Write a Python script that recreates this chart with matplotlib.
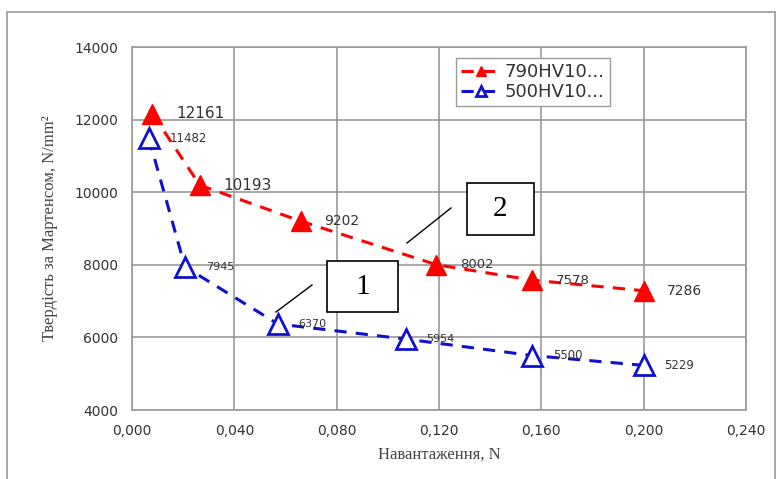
import matplotlib
matplotlib.use("Agg")
import matplotlib.pyplot as plt
from matplotlib.patches import Rectangle

# data
x_790 = [0.008, 0.0265, 0.066, 0.119, 0.1565, 0.200]
y_790 = [12161, 10193, 9202, 8002, 7578, 7286]
x_500 = [0.0066, 0.0207, 0.057, 0.107, 0.1565, 0.200]
y_500 = [11482, 7945, 6370, 5954, 5500, 5229]
labels_790 = ["12161", "10193", "9202", "8002", "7578", "7286"]
labels_500 = ["11482", "7945", "6370", "5954", "5500", "5229"]
sizes_790 = [11, 11, 10, 9.5, 9.5, 10]
sizes_500 = [8.5, 8, 8, 8, 8.5, 8.5]
series_names = ["790HV10...", "500HV10..."]
xticks = [0.0, 0.04, 0.08, 0.12, 0.16, 0.20, 0.24]
xtick_labels = ["0,000", "0,040", "0,080", "0,120", "0,160", "0,200", "0,240"]
yticks = [4000, 6000, 8000, 10000, 12000, 14000]

fig = plt.figure(figsize=(7.79, 4.79), dpi=100)
W, H = 779, 479
ax = fig.add_axes([132 / W, 1 - 410 / H, (746 - 132) / W, (410 - 47) / H])

# outer frame of the picture
fig.patches.append(Rectangle((7 / W, -0.01), (775 - 7) / W, 1 - 12 / H + 0.01,
                             transform=fig.transFigure, fill=False,
                             edgecolor="#9a9a9a", lw=1.2))

ax.plot(x_790, y_790, color="#ff0000", ls=(0, (4, 3)), lw=2.2,
        marker="^", ms=14, mfc="#ff0000", mec="#ff0000", label=series_names[0])
ax.plot(x_500, y_500, color="#1010d0", ls=(0, (4, 3)), lw=2.2,
        marker="^", ms=14, mfc="white", mec="#1010d0", mew=2,
        label=series_names[1])

for x, y, t, s in zip(x_790, y_790, labels_790, sizes_790):
    ax.annotate(t, (x, y), xytext=(17, 0), textcoords="offset points",
                va="center", ha="left", fontsize=s, color="#333333",
                family="DejaVu Sans")
for x, y, t, s in zip(x_500, y_500, labels_500, sizes_500):
    ax.annotate(t, (x, y), xytext=(15, 0), textcoords="offset points",
                va="center", ha="left", fontsize=s, color="#333333",
                family="DejaVu Sans")

ax.set_xlim(0, 0.24)
ax.set_ylim(4000, 14000)
ax.set_xticks(xticks)
ax.set_xticklabels(xtick_labels)
ax.set_yticks(yticks)
ax.tick_params(labelsize=10, length=0, colors="#333333", pad=10)
for lab in ax.get_xticklabels() + ax.get_yticklabels():
    lab.set_family("DejaVu Sans")
ax.grid(True, color="#9a9a9a", lw=1.2)
ax.set_axisbelow(True)
for sp in ax.spines.values():
    sp.set_color("#9a9a9a")
    sp.set_linewidth(1.2)

ax.set_xlabel("Навантаження, N", family="Liberation Serif", fontsize=12,
              color="#444444", labelpad=6)
ax.set_ylabel("Твердість за Мартенсом, N/mm²", family="Liberation Serif",
              fontsize=12, color="#444444", labelpad=12)

leg = ax.legend(loc="upper left", bbox_to_anchor=(0.513, 0.995),
                handlelength=2.2, borderpad=0.3, labelspacing=0.1,
                handletextpad=0.2, fancybox=False, framealpha=1,
                markerscale=0.55, prop={"family": "DejaVu Sans", "size": 13})
leg.get_frame().set_edgecolor("#9a9a9a")
for t in leg.get_texts():
    t.set_color("#333333")

# callout boxes 1 and 2
def callout(x0, y0, x1, y1, lx0, ly0, lx1, ly1, txt):
    fig.patches.append(Rectangle((x0 / W, 1 - y1 / H), (x1 - x0) / W, (y1 - y0) / H,
                                 transform=fig.transFigure, fill=True,
                                 facecolor="white", edgecolor="black", lw=1.2,
                                 zorder=5))
    fig.text((x0 + x1) / 2 / W, 1 - (y0 + y1) / 2 / H, txt, ha="center",
             va="center", family="Liberation Serif", fontsize=21, zorder=6)
    fig.add_artist(plt.Line2D([lx0 / W, lx1 / W], [1 - ly0 / H, 1 - ly1 / H],
                              transform=fig.transFigure, color="black", lw=1))

callout(467, 183, 534, 235, 451, 208, 407, 243, "2")
callout(327, 261, 398, 312, 312, 285, 276, 312, "1")

fig.savefig("out.png", dpi=100)
